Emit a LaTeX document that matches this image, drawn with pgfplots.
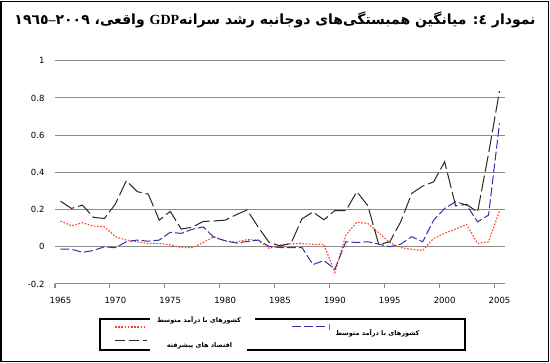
\documentclass[border=0pt]{standalone}
\usepackage{fontspec}
\usepackage{pgfplots}
\usepackage{pgfplotstable}
\pgfplotsset{compat=1.18}
\setmainfont{DejaVu Sans}
\newfontfamily\arabicfont[Script=Arabic]{DejaVu Sans}
\newfontfamily\serif{Liberation Serif}
\TeXXeTstate=1

\definecolor{cred}{RGB}{255,60,30}
\definecolor{cblue}{RGB}{50,50,170}
\definecolor{cblack}{RGB}{40,40,25}
\definecolor{cgrid}{RGB}{140,140,140}

\pgfplotstableread{
year adv mid low
1965 0.245 -0.013 0.138
1966 0.206 -0.013 0.113
1967 0.224 -0.030 0.129
1968 0.158 -0.020 0.111
1969 0.152 0.000 0.108
1970 0.230 -0.005 0.054
1971 0.355 0.027 0.036
1972 0.296 0.036 0.027
1973 0.283 0.030 0.018
1974 0.143 0.036 0.018
1975 0.190 0.078 0.010
1976 0.095 0.072 -0.004
1977 0.105 0.094 -0.005
1978 0.136 0.107 0.023
1979 0.139 0.050 0.054
1980 0.143 0.033 0.030
1981 0.172 0.020 0.025
1982 0.198 0.028 0.038
1983 0.107 0.036 0.036
1984 0.024 0.002 -0.009
1985 0.005 -0.004 0.009
1986 0.018 -0.005 0.016
1987 0.150 -0.004 0.018
1988 0.187 -0.096 0.013
1989 0.145 -0.074 0.013
1990 0.195 -0.120 -0.138
1991 0.194 0.027 0.063
1992 0.296 0.023 0.132
1993 0.221 0.027 0.125
1994 0.012 0.014 0.075
1995 0.027 0.000 0.022
1996 0.134 0.014 -0.004
1997 0.287 0.054 -0.014
1998 0.326 0.027 -0.020
1999 0.349 0.143 0.045
2000 0.457 0.206 0.072
2001 0.220 0.242 0.095
2002 0.228 0.224 0.120
2003 0.186 0.134 0.018
2004 0.500 0.170 0.027
2005 0.837 0.663 0.192
}\datatable

\newcommand{\legfont}{\arabicfont\bfseries\fontsize{6.5}{8}\selectfont}

\begin{document}
\begin{tikzpicture}[x=1pt,y=1pt]
\useasboundingbox (0,0) rectangle (550,363);
\draw[line width=1.5pt] (1,1.5) rectangle (548.5,361.5);
\begin{axis}[
  at={(55pt,79pt)}, anchor=south west,
  scale only axis, width=450pt, height=223.3pt,
  xmin=1964.5, xmax=2005.5, ymin=-0.2, ymax=1,
  axis line style={draw=none},
  ymajorgrids, grid style={cgrid, line width=1pt},
  ytick={-0.2,0,0.2,0.4,0.6,0.8,1},
  yticklabels={-0.2,0,0.2,0.4,0.6,0.8,1},
  xtick={1965,1970,1975,1980,1985,1990,1995,2000,2005},
  xticklabels={1965,1970,1975,1980,1985,1990,1995,2000,2005},
  major tick length=0pt,
  minor xtick={1964.5,1969.5,1974.5,1979.5,1984.5,1989.5,1994.5,1999.5,2004.5},
  minor tick length=4pt, tick align=outside, tick pos=left,
  minor tick style={cgrid, line width=1pt},
  ticklabel style={font=\fontsize{8.5}{10}\selectfont},
  yticklabel style={xshift=-7pt},
  xticklabel style={yshift=-10pt},
  clip=false,
]
\addplot[cred, line width=1.1pt, dash pattern=on 1.6pt off 1.6pt] table[x=year,y=low]{\datatable};
\addplot[cblue, line width=1pt, dash pattern=on 9pt off 3pt] table[x=year,y=mid]{\datatable};
\addplot[cblack, line width=1pt, dash pattern=on 16pt off 4pt] table[x=year,y=adv]{\datatable};
\end{axis}
% title
\node at (275,343) {\arabicfont\bfseries\fontsize{14}{17}\selectfont\beginR نمودار ٤\kern0pt: میانگین همبستگی‌های دوجانبه رشد سرانه{\serif\bfseries\beginL GDP\endL} واقعی، \beginL ١٩٦٥{\serif\bfseries –}٢٠٠٩\endL\endR};
% legend
\draw[line width=1.2pt] (150,44) -- (100,44) -- (100,13) -- (150,13);
\draw[line width=1.2pt] (255,44) -- (465,44) -- (465,13) -- (247,13);
\draw[cred, line width=1.1pt, dash pattern=on 1.6pt off 1.6pt] (115,36) -- (145,36);
\draw[cblack, line width=1pt, dash pattern=on 10pt off 4pt] (115,22.4) -- (147,22.4);
\draw[cblue, line width=1pt, dash pattern=on 9pt off 3pt] (292,36) -- (325,36);
\draw[cred, line width=0.8pt] (329,39) -- (329,33);
\node at (199,43) {\legfont\beginR کشورهای  با درآمد متوسط\endR};
\node at (199.5,17) {\legfont\beginR اقتصاد های پیشرفته\endR};
\node at (377.5,30.3) {\legfont\beginR کشورهای با درآمد متوسط\endR};
\end{tikzpicture}
\end{document}
